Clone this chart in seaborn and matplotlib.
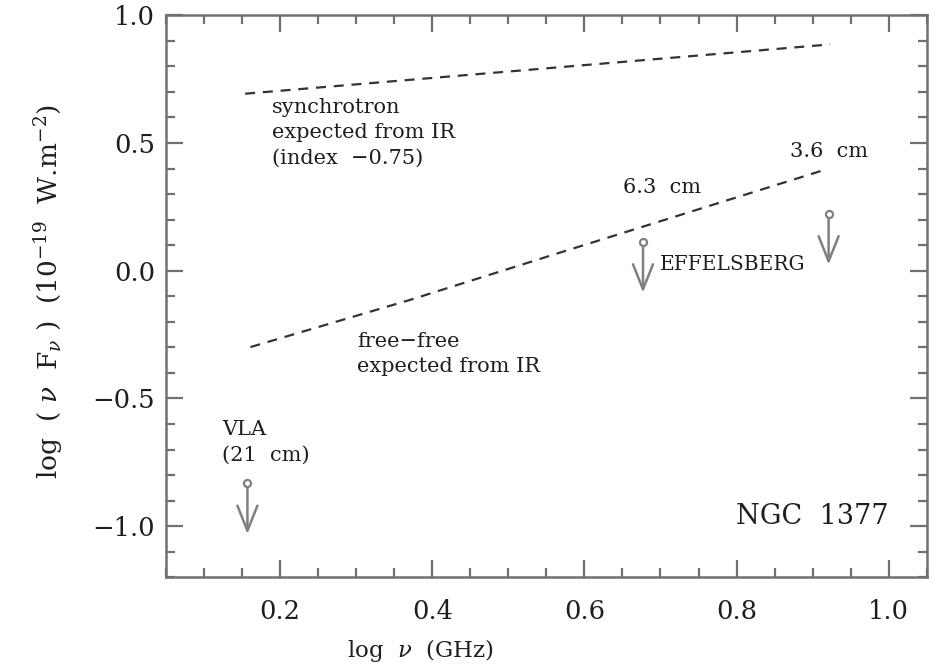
import numpy as np
import pandas as pd
import matplotlib
matplotlib.use("Agg")
import matplotlib.pyplot as plt
from matplotlib.ticker import MultipleLocator
import seaborn as sns

# ---- data ----
sync_x = [0.154, 0.923]
sync_y = [0.693, 0.886]
ff_x = [0.161, 0.371, 0.568, 0.919]
ff_y = [-0.299, -0.114, 0.071, 0.398]
lim_x = [0.157, 0.677, 0.921]          # upper-limit frequencies (log GHz)
lim_y = [-0.831, 0.114, 0.224]         # upper-limit values
lim_names = ["VLA (21 cm)", "6.3 cm", "3.6 cm"]
arrow_len = 0.2
x_ticks = [0.2, 0.4, 0.6, 0.8, 1.0]
y_ticks = [-1.0, -0.5, 0.0, 0.5, 1.0]

sns.set_theme(style="ticks")
plt.rcParams["font.family"] = ["DejaVu Serif"]
plt.rcParams["mathtext.fontset"] = "dejavuserif"

ink = "#1e1e1e"
grey = "#707070"
agrey = "#808080"

fig = plt.figure(figsize=(9.38, 6.65), dpi=100)
ax = fig.add_axes([0.177, 0.132, 0.811, 0.845])

lines = pd.concat([
    pd.DataFrame({"x": sync_x, "y": sync_y, "comp": "synchrotron"}),
    pd.DataFrame({"x": ff_x, "y": ff_y, "comp": "free-free"}),
])
sns.lineplot(data=lines, x="x", y="y", units="comp", estimator=None,
             color="#333333", lw=1.6, dashes=False, ax=ax, sort=False)
for ln in ax.lines:
    ln.set_dashes([4.5, 3.5])

lims = pd.DataFrame({"x": lim_x, "y": lim_y, "name": lim_names})
for _, r in lims.iterrows():
    ax.annotate("", xy=(r.x, r.y - arrow_len), xytext=(r.x, r.y),
                arrowprops=dict(arrowstyle="->,head_length=1.5,head_width=0.6",
                                color=agrey, lw=1.8, shrinkA=0, shrinkB=0))
sns.scatterplot(data=lims, x="x", y="y", s=26, color="white",
                edgecolor=agrey, linewidth=1.6, ax=ax, zorder=5)

ax.set_xlim(0.05, 1.05)
ax.set_ylim(-1.2, 1.0)
ax.set_xticks(x_ticks)
ax.set_yticks(y_ticks)
ax.xaxis.set_minor_locator(MultipleLocator(0.05))
ax.yaxis.set_minor_locator(MultipleLocator(0.1))
ax.set_xticklabels([f"{v:.1f}" for v in x_ticks])
ax.set_yticklabels([f"{v:.1f}".replace("-", "\u2212") for v in y_ticks])
ax.tick_params(which="both", direction="in", top=True, right=True,
               colors=grey, labelcolor=ink, width=1.6)
ax.tick_params(which="major", length=12, labelsize=18.5)
ax.tick_params(axis="y", which="major", pad=8)
ax.tick_params(axis="x", which="major", pad=16)
ax.tick_params(which="minor", length=6.5)
for s in ax.spines.values():
    s.set_color(grey)
    s.set_linewidth(1.8)

ax.set_xlabel(r"log  $\nu$  (GHz)", fontsize=16.5, color=ink)
ax.xaxis.set_label_coords(0.334, -0.106)
ax.set_ylabel(r"log  ( $\nu$  F$_\nu$ )  (10$^{-19}$  W.m$^{-2}$)", fontsize=19,
              color=ink)
ax.yaxis.set_label_coords(-0.133, 0.508)

tkw = dict(color=ink, fontsize=15)
ax.text(0.189, 0.676, "synchrotron\nexpected from IR\n(index  \u22120.75)",
        va="top", ha="left", linespacing=1.42, **tkw)
ax.text(0.301, -0.238, "free\u2212free\nexpected from IR",
        va="top", ha="left", linespacing=1.42, **tkw)
ax.text(0.124, -0.583, "VLA\n(21  cm)", va="top", ha="left",
        linespacing=1.5, **tkw)
ax.text(0.651, 0.327, "6.3  cm", va="center", ha="left", **tkw)
ax.text(0.870, 0.468, "3.6  cm", va="center", ha="left", **tkw)
ax.text(0.699, 0.024, "EFFELSBERG", va="center", ha="left",
        color=ink, fontsize=14.5)
ax.text(1.0, -0.961, "NGC  1377", va="center", ha="right",
        color=ink, fontsize=19.5)

fig.savefig("out.png", dpi=100)
